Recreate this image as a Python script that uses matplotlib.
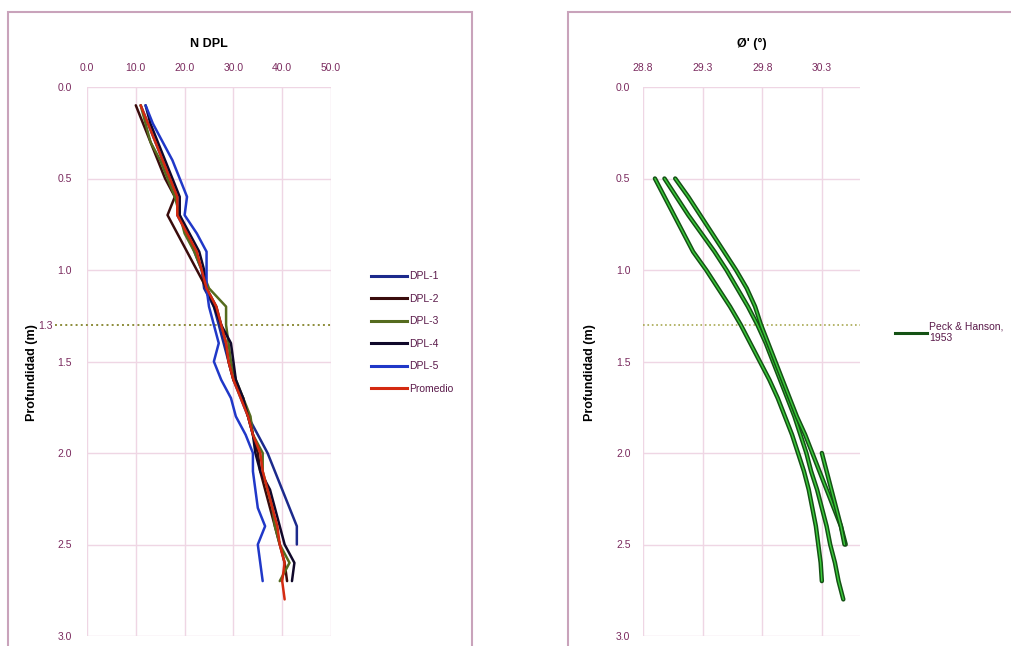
import matplotlib
matplotlib.use('Agg')
import matplotlib.pyplot as plt
import matplotlib.patheffects as pe
from matplotlib.patches import Rectangle
from matplotlib.lines import Line2D

plt.rcParams['font.family'] = ['Liberation Sans', 'DejaVu Sans']

# ---- datos panel izquierdo (N DPL vs profundidad) ----
prof_27 = [0.1, 0.2, 0.3, 0.4, 0.5, 0.6, 0.7, 0.8, 0.9, 1.0, 1.1, 1.2, 1.3, 1.4,
           1.5, 1.6, 1.7, 1.8, 1.9, 2.0, 2.1, 2.2, 2.3, 2.4, 2.5, 2.6, 2.7]
prof_25 = prof_27[:25]
prof_28 = prof_27 + [2.8]

dpl1 = [11.0, 12.5, 14.0, 15.5, 17.0, 18.5, 18.5, 20.5, 22.0, 23.5, 24.0, 26.0, 27.0,
        28.0, 29.0, 30.0, 31.5, 33.0, 35.0, 37.0, 38.5, 40.0, 41.5, 43.0, 43.0]
dpl2 = [10.0, 11.5, 13.0, 14.5, 16.0, 18.0, 16.5, 18.5, 20.5, 22.5, 24.5, 26.5, 27.5,
        28.5, 29.0, 30.0, 32.0, 33.0, 34.0, 35.0, 35.5, 36.5, 37.5, 38.5, 39.5, 40.5, 41.0]
dpl3 = [11.0, 12.0, 13.0, 15.0, 16.5, 18.0, 19.0, 20.0, 22.0, 23.5, 25.0, 28.5, 28.5,
        29.0, 29.5, 30.5, 32.0, 33.5, 34.0, 36.0, 36.0, 37.0, 38.0, 38.5, 39.5, 41.5, 39.5]
dpl4 = [12.0, 13.0, 14.5, 16.0, 17.5, 19.0, 19.0, 21.0, 23.0, 24.0, 24.5, 26.0, 27.5,
        29.5, 30.0, 30.5, 32.0, 33.0, 34.0, 34.5, 35.5, 37.5, 38.5, 39.5, 40.5, 42.5, 42.0]
dpl5 = [12.0, 13.5, 15.5, 17.5, 19.0, 20.5, 20.0, 22.5, 24.5, 24.5, 24.5, 25.0, 26.0,
        27.0, 26.0, 27.5, 29.5, 30.5, 32.5, 34.0, 34.0, 34.5, 35.0, 36.5, 35.0, 35.5, 36.0]
promedio = [11.0, 12.5, 14.0, 15.5, 17.0, 18.5, 18.5, 20.5, 22.5, 23.5, 24.5, 26.5, 27.5,
            28.5, 29.0, 30.0, 31.5, 33.0, 34.0, 35.5, 36.0, 37.0, 38.0, 39.0, 39.5, 40.5,
            40.0, 40.5]

# ---- datos panel derecho (angulo de friccion) ----
prof_phi_a = [0.5, 0.6, 0.7, 0.8, 0.9, 1.0, 1.1, 1.2, 1.3, 1.4, 1.5, 1.6, 1.7, 1.8,
              1.9, 2.0, 2.1, 2.2, 2.3, 2.4, 2.5, 2.6, 2.7]
prof_phi_b = prof_phi_a + [2.8]
prof_phi_c = prof_phi_a[:21]
prof_phi_d = [2.0, 2.1, 2.2, 2.3, 2.4, 2.5]

phi_a = [28.90, 28.98, 29.06, 29.14, 29.22, 29.33, 29.43, 29.53, 29.62, 29.70, 29.78,
         29.86, 29.93, 29.99, 30.05, 30.10, 30.15, 30.19, 30.22, 30.25, 30.27, 30.29, 30.30]
phi_b = [28.98, 29.08, 29.18, 29.29, 29.40, 29.50, 29.59, 29.68, 29.76, 29.83, 29.89,
         29.95, 30.01, 30.07, 30.12, 30.17, 30.21, 30.26, 30.30, 30.34, 30.37, 30.41,
         30.44, 30.48]
phi_c = [29.07, 29.18, 29.28, 29.38, 29.48, 29.58, 29.67, 29.74, 29.79, 29.85, 29.91,
         29.97, 30.03, 30.09, 30.16, 30.22, 30.28, 30.34, 30.40, 30.46, 30.50]
phi_d = [30.30, 30.34, 30.38, 30.42, 30.46, 30.49]

nivel_freatico = 1.3

xt_left = [0, 10, 20, 30, 40, 50]
xt_right = [28.8, 29.3, 29.8, 30.3]
yt = [0.0, 0.5, 1.0, 1.5, 2.0, 2.5, 3.0]

W, H = 1012, 646
fig = plt.figure(figsize=(W / 100, H / 100), dpi=100)

lab_col = '#7a2a5e'
grid_col = '#efd6e4'
box_col = '#c9a3bb'

# marcos de cada grafico
fig.patches.append(Rectangle((8 / W, -0.05), 464 / W, (H - 12) / H + 0.05,
                             transform=fig.transFigure, fill=False,
                             edgecolor=box_col, lw=1.5))
fig.patches.append(Rectangle((568 / W, -0.05), 460 / W, (H - 12) / H + 0.05,
                             transform=fig.transFigure, fill=False,
                             edgecolor=box_col, lw=1.5))


def setup(ax, xticks, xfmt, pad_y):
    ax.xaxis.tick_top()
    ax.set_xticks(xticks)
    ax.set_xticklabels([xfmt.format(v) for v in xticks])
    ax.set_yticks(yt)
    ax.set_yticklabels(['{:.1f}'.format(v) for v in yt])
    for s in ax.spines.values():
        s.set_visible(False)
    ax.grid(True, which='major', color=grid_col, lw=1.0)
    ax.tick_params(which='both', length=0, labelsize=7.5, colors=lab_col)
    ax.tick_params(axis='x', pad=10)
    ax.tick_params(axis='y', pad=pad_y)
    ax.set_ylabel('Profundidad (m)', fontsize=9, fontweight='bold')


# ---------- panel izquierdo ----------
ax1 = fig.add_axes([87 / W, 10 / H, 244 / W, 549 / H])
ax1.set_xlim(0, 50)
ax1.set_ylim(3.0, 0.0)
setup(ax1, xt_left, '{:.1f}', 11)
ax1.set_yticks([nivel_freatico], minor=True)
ax1.set_yticklabels(['1.3'], minor=True)
ax1.tick_params(axis='y', which='minor', pad=25)
ax1.yaxis.set_label_coords(-0.2, 0.48)
ax1.set_title('N DPL', fontsize=9, fontweight='bold', y=1.058)

ax1.plot([-6.5, 50], [nivel_freatico, nivel_freatico], ls=':', color='#8c8c3a',
         lw=1.4, clip_on=False)

series = [
    (dpl1, prof_25, '#1c2a8c', 'DPL-1'),
    (dpl2, prof_27, '#3a0c0c', 'DPL-2'),
    (dpl3, prof_27, '#556b1e', 'DPL-3'),
    (dpl4, prof_27, '#10082a', 'DPL-4'),
    (dpl5, prof_27, '#2038c8', 'DPL-5'),
    (promedio, prof_28, '#d42a10', 'Promedio'),
]
handles = []
for x, y, c, lab in series:
    ax1.plot(x, y, color=c, lw=1.8, solid_joinstyle='round', solid_capstyle='round')
    handles.append(Line2D([], [], color=c, lw=2.2, label=lab))

fig.legend(handles=handles, loc='upper left', bbox_to_anchor=(362 / W, 1 - 262 / H),
           frameon=False, fontsize=7.5, labelcolor='#5a1a4a', handlelength=3.4,
           handletextpad=0.2, labelspacing=1.2)

# ---------- panel derecho ----------
ax2 = fig.add_axes([643 / W, 10 / H, 217 / W, 549 / H])
ax2.set_xlim(28.8, 30.62)
ax2.set_ylim(3.0, 0.0)
setup(ax2, xt_right, '{:.1f}', 9)
ax2.yaxis.set_label_coords(-0.215, 0.48)
ax2.set_title("Ø' (°)", fontsize=9, fontweight='bold', y=1.058)

ax2.plot([28.8, 30.62], [nivel_freatico, nivel_freatico], ls=':', color='#a8a850',
         lw=1.2, clip_on=False)

efecto = [pe.Stroke(linewidth=3.2, foreground='#145214'), pe.Normal()]
for x, y in [(phi_a, prof_phi_a), (phi_b, prof_phi_b), (phi_c, prof_phi_c),
             (phi_d, prof_phi_d)]:
    ax2.plot(x, y, color='#3ccc3c', lw=1.0, path_effects=efecto,
             solid_capstyle='round')

h2 = Line2D([], [], color='#145214', lw=2.2, label='Peck & Hanson,\n1953')
fig.legend(handles=[h2], loc='upper left', bbox_to_anchor=(886 / W, 1 - 312 / H),
           frameon=False, fontsize=7.5, labelcolor='#5a1a4a', handlelength=3.0,
           handletextpad=0.2)

fig.savefig('out.png', dpi=100, facecolor='white')
